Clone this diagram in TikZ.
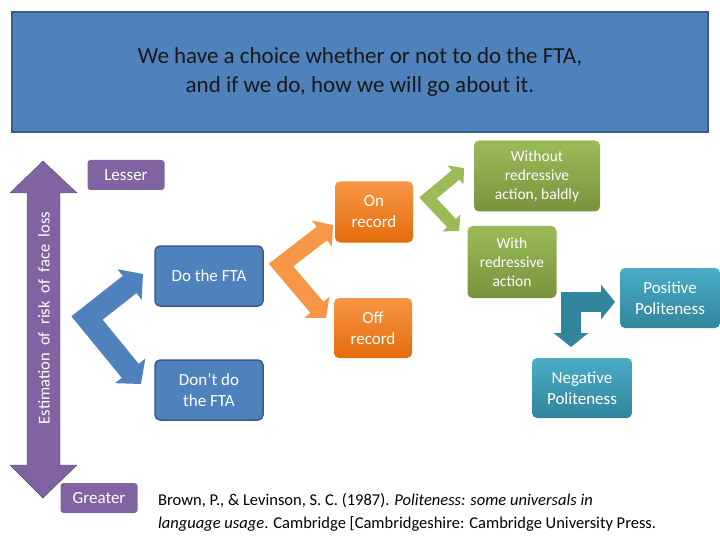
\documentclass[tikz,border=0pt]{standalone}
\usepackage{fontspec}
\setmainfont{Carlito}
\usetikzlibrary{arrows.meta}
\definecolor{titleblue}{HTML}{4F81BD}
\definecolor{lineblue}{HTML}{385D8A}
\definecolor{purp}{HTML}{8064A2}
\definecolor{orng}{HTML}{F79646}
\definecolor{orngd}{HTML}{E46C0A}
\definecolor{grn}{HTML}{9BBB59}
\definecolor{grnd}{HTML}{77933C}
\definecolor{teal}{HTML}{4BACC6}
\definecolor{teald}{HTML}{31859C}
\begin{document}
\begin{tikzpicture}[x=1pt, y=-1pt,
    stage/.style ={rectangle, rounded corners=5pt, text=white, align=center,
      font=\fontsize{17}{21}\selectfont, inner sep=0pt},
    bluebox/.style ={stage, fill=titleblue, draw=lineblue, line width=1.5pt},
    orngbox/.style ={stage, top color=orng, bottom color=orngd},
    grnbox/.style ={stage, top color=grn, bottom color=grnd, font=\fontsize{15.5}{19}\selectfont},
    tealbox/.style ={stage, top color=teal, bottom color=teald},
    tagbox/.style ={stage, fill=purp, rounded corners=3pt},
    fork/.style ={line join=miter, {Triangle[length=17pt,width=38pt]}-{Triangle[length=17pt,width=38pt]}}]
   \useasboundingbox (0,0) rectangle (720,540);
   % title
   \node[rectangle, fill=titleblue, draw=lineblue, line width=1.5pt, minimum width=696pt,
     minimum height=120pt, align=center, font=\fontsize{23}{29}\selectfont, text=black!90]
     (title) at (360,72) {We have a choice whether or not to do the FTA,\\and if we do, how we will go about it.};
   % scale of face loss
   \fill[purp, draw=purp!70!black] (43,161) -- (77,193) -- (60,193) -- (60,465) -- (77,465) -- (43,498)
     -- (10,465) -- (27,465) -- (27,193) -- (10,193) -- cycle;
   \node[rotate=90, text=white, font=\fontsize{16.5}{18}\selectfont] (scale) at (44,318) {Estimation\ \ of\ \ risk\ \ of\ \ face\ \ loss};
   \node[tagbox, minimum width=77pt, minimum height=30pt] (lesser) at (126,175) {Lesser};
   \node[tagbox, minimum width=77pt, minimum height=30pt] (greater) at (99,498) {Greater};
   % boxes
   \node[bluebox, minimum width=108pt, minimum height=60pt] (do) at (209,276) {Do the FTA};
   \node[bluebox, minimum width=108pt, minimum height=60pt] (dont) at (209,390) {Don’t do\\the FTA};
   \node[orngbox, minimum width=78pt, minimum height=61pt] (on) at (374,212) {On\\record};
   \node[orngbox, minimum width=78pt, minimum height=60pt] (off) at (373,328) {Off\\record};
   \node[grnbox, minimum width=126pt, minimum height=71pt] (bald) at (537,176) {Without\\redressive\\action, baldly};
   \node[grnbox, minimum width=89pt, minimum height=72pt] (redress) at (512,262) {With\\redressive\\action};
   \node[tealbox, minimum width=100pt, minimum height=60pt] (pos) at (670,298) {Positive\\Politeness};
   \node[tealbox, minimum width=100pt, minimum height=60pt] (neg) at (582,388) {Negative\\Politeness};
   % forks
   \coordinate (b1) at (143,274);
   \coordinate (b0) at (87,318);
   \coordinate (b2) at (141,384);
   \draw[fork, line width=22pt, titleblue] (b1) -- (b0) -- (b2);
   \coordinate (o1) at (333,225);
   \coordinate (o0) at (281,265);
   \coordinate (o2) at (326,318);
   \draw[fork, line width=17pt, orng, {Triangle[length=14pt,width=32pt]}-{Triangle[length=14pt,width=32pt]}] (o1) -- (o0) -- (o2);
   \coordinate (g1) at (464,168);
   \coordinate (g0) at (428,198);
   \coordinate (g2) at (459,231);
   \draw[fork, line width=12pt, grn, {Triangle[length=11pt,width=24pt]}-{Triangle[length=11pt,width=24pt]}] (g1) -- (g0) -- (g2);
   \coordinate (t0) at (571,302);
   \coordinate (t1) at (615,302);
   \coordinate (t2) at (571,347);
   \draw[line width=20pt, teald, line join=miter, {Triangle[length=14pt,width=34pt]}-{Triangle[length=14pt,width=34pt]}]
     (t1) -- (t0) -- (t2);
   % reference
   \node[anchor=north west, align=left, font=\fontsize{16.5}{23}\selectfont, inner sep=0pt] (cite) at (158,493)
     {Brown, P., \& Levinson, S. C. (1987). \textit{Politeness: some universals in}\\\textit{language usage}. Cambridge [Cambridgeshire: Cambridge University Press.};
\end{tikzpicture}
\end{document}
